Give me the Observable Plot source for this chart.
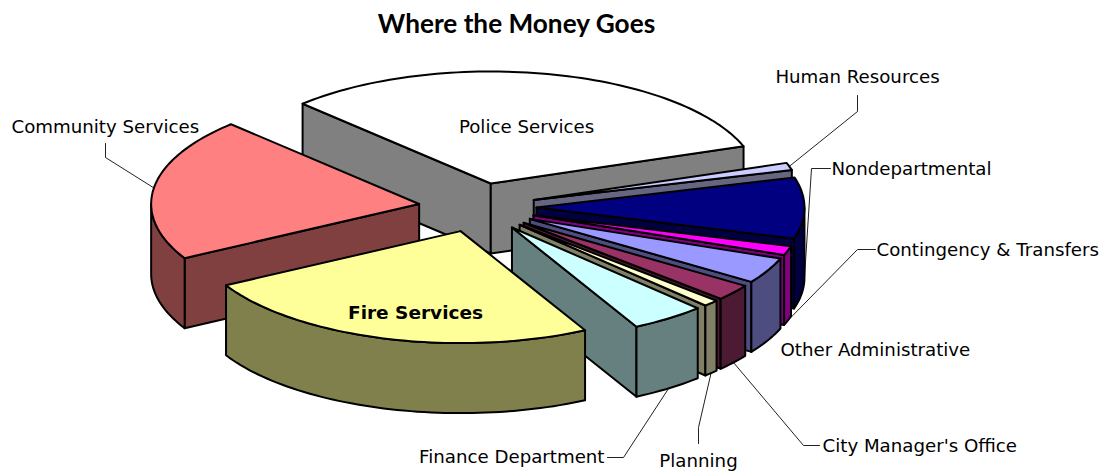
<!DOCTYPE html>
<html><head><meta charset="utf-8">
<script src="https://cdn.jsdelivr.net/npm/d3@7"></script>
<script src="https://cdn.jsdelivr.net/npm/@observablehq/plot@0.6"></script>
<style>
html,body{margin:0;padding:0;background:#fff;overflow:hidden}
#title{height:44px;text-align:center;font:700 26.2px/46px "Lato",sans-serif;color:#000;width:1033px}
</style></head><body>
<div id="title">Where the Money Goes</div>
<div id="chart"></div>
<script>
// Data: share of the budget, clockwise from the Police slice
const departments = ["Police Services","Human Resources","Nondepartmental","Contingency & Transfers","Other Administrative","City Manager's Office","Planning","Finance Department","Fire Services","Community Services"];
const shares = [32.0,1.05,8.8,1.3,3.75,2.35,0.95,4.5,24.65,20.65];
const topColors = ["#FFFFFF","#CCCCFF","#000080","#FF00FF","#9999FF","#993366","#FFFFCC","#CCFFFF","#FFFF99","#FF8080"];
const sideColors = ["#808080","#666680","#000040","#800080","#4D4D80","#4D1A33","#808066","#668080","#80804D","#804040"];

// Layout of the projected pie
const cx=477, cy=207, rx=268, ry=112, depth=70, explode=0.22, startAngle=-44.6;
const total=d3.sum(shares);
const rad=d=>d*Math.PI/180;
let acc=startAngle;
const slices=departments.map((name,i)=>{
  const a0=acc, a1=acc+shares[i]/total*360; acc=a1;
  const mid=(a0+a1)/2;
  return {name,i,a0,a1,mid,
    ax:cx+explode*rx*Math.sin(rad(mid)),
    ay:cy-explode*ry*Math.cos(rad(mid))};
});
const rim=(s,a,z=0)=>({x:s.ax+rx*Math.sin(rad(a)),y:s.ay-ry*Math.cos(rad(a))+z});
const arc=(s,a0,a1,z=0)=>{
  const n=Math.max(2,Math.ceil((a1-a0)/1.5)+1);
  return d3.range(n).map(k=>rim(s,a0+(a1-a0)*k/(n-1),z));
};
const rows=[];
const push=(id,pts,fill)=>{[...pts,pts[0]].forEach(p=>rows.push({id,x:p.x,y:p.y,fill}));};
slices.slice().sort((p,q)=>Math.cos(rad(q.mid))-Math.cos(rad(p.mid))).forEach(s=>{
  const side=sideColors[s.i], A={x:s.ax,y:s.ay}, B={x:s.ax,y:s.ay+depth};
  const face=(a,tag)=>{const r0=rim(s,a),r1=rim(s,a,depth);push(s.i+tag,[A,r0,r1,B],side);};
  if(Math.sin(rad(s.a0))<0) face(s.a0,"f0");
  if(Math.sin(rad(s.a1))>0) face(s.a1,"f1");
  const v0=Math.max(s.a0,90), v1=Math.min(s.a1,270);
  if(v1>v0) push(s.i+"arc",[...arc(s,v0,v1),...arc(s,v0,v1,depth).reverse()],side);
  push(s.i+"top",[A,...arc(s,s.a0,s.a1)],topColors[s.i]);
});

// Label placement (text position, anchor, optional elbow of the leader)
const labelLayout={
 "Police Services":{x:526,y:127,anchor:"middle"},
 "Fire Services":{x:415,y:313,anchor:"middle",bold:true},
 "Other Administrative":{x:780,y:350,anchor:"start"},
 "Human Resources":{x:857,y:77,anchor:"middle",leader:[[857,95],[857,111]]},
 "Nondepartmental":{x:831,y:169,anchor:"start",leader:[[830,168],[811,168]]},
 "Contingency & Transfers":{x:876,y:250,anchor:"start",leader:[[875,249],[857,249]]},
 "City Manager's Office":{x:822,y:446,anchor:"start",leader:[[819,445],[803,445]]},
 "Planning":{x:698,y:461,anchor:"middle",leader:[[698,443],[698,427]]},
 "Finance Department":{x:604,y:457,anchor:"end",leader:[[607,457],[623,457]]},
 "Community Services":{x:11,y:127,anchor:"start",leader:[[105,143],[105,157]]}
};
const labels=slices.map(s=>({name:s.name,...labelLayout[s.name]}));
const leaders=[];
slices.forEach(s=>{
  const l=labelLayout[s.name].leader; if(!l) return;
  const end=rim(s,s.mid,Math.cos(rad(s.mid))<0||s.name==="Nondepartmental"?depth:0);
  [...l.map(([x,y])=>({x,y})),end].forEach(p=>leaders.push({name:s.name,...p}));
});

const font='"DejaVu Sans",sans-serif';
const plot=Plot.plot({
  width:1112,height:428,margin:0,
  x:{domain:[0,1112],range:[0,1112],axis:null},
  y:{domain:[44,472],range:[0,428],axis:null},
  color:{type:"identity"},
  marks:[
    Plot.line(leaders,{x:"x",y:"y",z:"name",stroke:"#222",strokeWidth:1,curve:"linear"}),
    Plot.line(rows,{x:"x",y:"y",z:"id",fill:"fill",stroke:"#000",strokeWidth:2,strokeLinejoin:"round",curve:"linear"}),
    ...["start","middle","end"].map(a=>Plot.text(labels.filter(d=>d.anchor===a&&!d.bold),{x:"x",y:"y",text:"name",textAnchor:a,fontSize:18.2,fontFamily:font,fill:"#000"})),
    Plot.text(labels.filter(d=>d.bold),{x:"x",y:"y",text:"name",textAnchor:"middle",fontSize:18.5,fontWeight:700,fontFamily:font,fill:"#000"})
  ]
});
document.getElementById("chart").append(plot);
</script>
</body></html>
